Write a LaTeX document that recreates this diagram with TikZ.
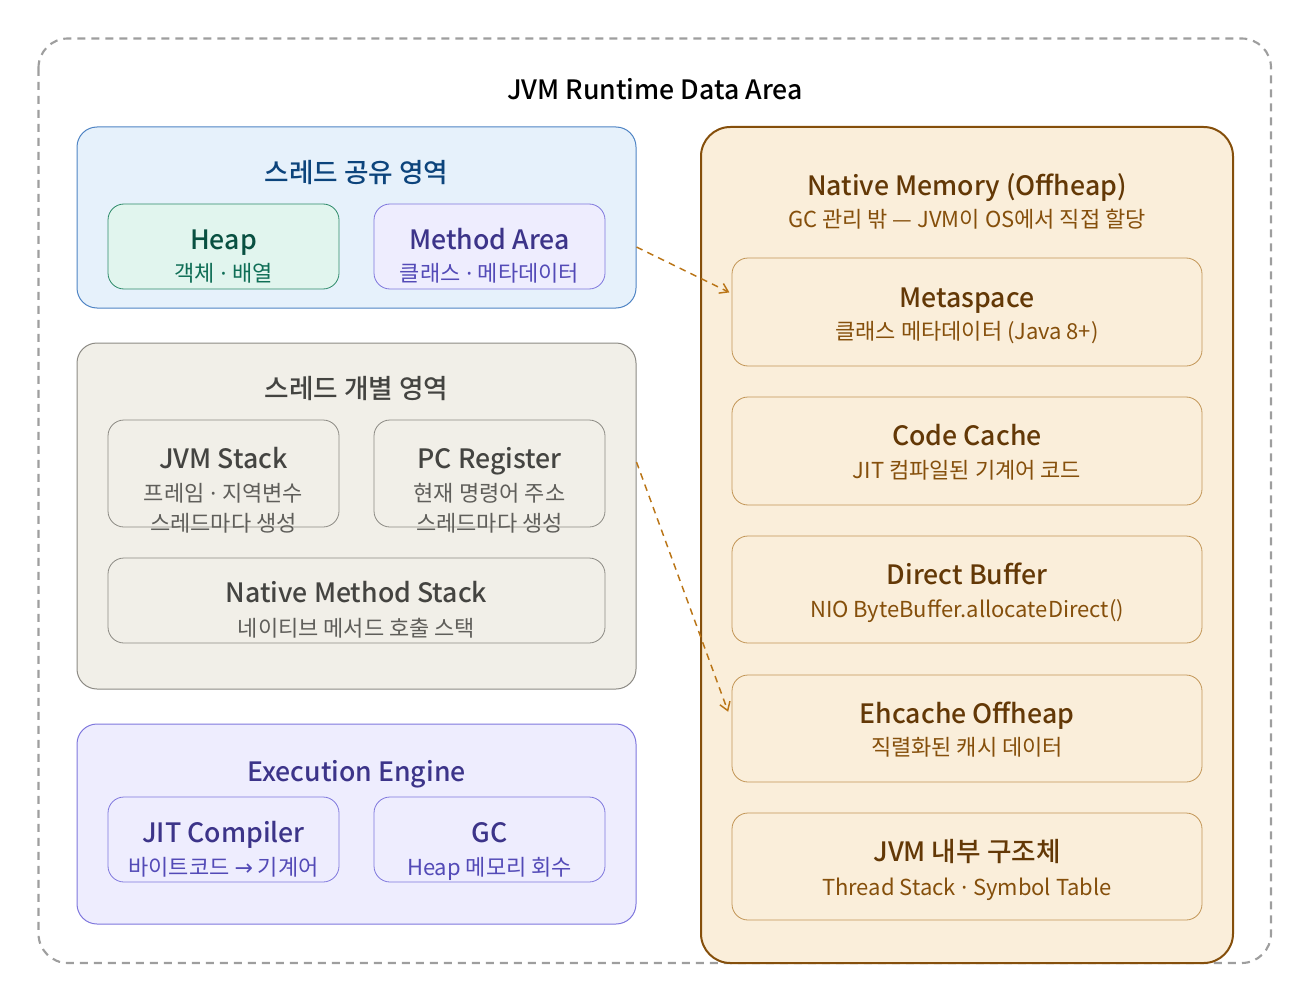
\documentclass[tikz,border=0pt]{standalone}
\usepackage{fontspec}
\setmainfont{Noto Sans CJK KR}
\newfontfamily\medfont{Noto Sans CJK KR Medium}
\newfontfamily\latinfont{Noto Sans}
\newfontfamily\symfont{DejaVu Sans}
\newcommand{\mdot}{{\latinfont\ ·\ }}
\usetikzlibrary{arrows.meta,calc}

\definecolor{outerline}{HTML}{9E9E9E}
\definecolor{blueFill}{HTML}{E6F1FB}
\definecolor{blueLine}{HTML}{4F84C4}
\definecolor{blueText}{HTML}{0C447C}
\definecolor{greenFill}{HTML}{E1F5EE}
\definecolor{greenLine}{HTML}{2E8B6A}
\definecolor{greenText}{HTML}{085041}
\definecolor{greenSub}{HTML}{0F6E56}
\definecolor{purpleFill}{HTML}{EEEDFE}
\definecolor{purpleLine}{HTML}{7F77DD}
\definecolor{purpleText}{HTML}{3C3489}
\definecolor{purpleSub}{HTML}{534AB7}
\definecolor{grayFill}{HTML}{F1EFE8}
\definecolor{grayLine}{HTML}{8C8A84}
\definecolor{grayText}{HTML}{444441}
\definecolor{graySub}{HTML}{5F5E5A}
\definecolor{amberFill}{HTML}{FAEEDA}
\definecolor{amberLine}{HTML}{854F0B}
\definecolor{amberInner}{HTML}{C29556}
\definecolor{amberText}{HTML}{633806}
\definecolor{amberSub}{HTML}{854F0B}
\definecolor{arrowCol}{HTML}{BA7517}

\tikzset{
  area/.style={draw, rounded corners=15pt, line width=0.75pt, inner sep=0pt},
  cell/.style={draw, rounded corners=12pt, line width=0.6pt, inner sep=0pt},
  headtxt/.style={inner sep=0pt, text height=14pt, text depth=0pt,
    font=\medfont\fontsize{20}{22}\selectfont},
  subtxt/.style={inner sep=0pt, text height=12pt, text depth=0pt,
    font=\fontsize{16.5}{18}\selectfont},
  flow/.style={draw=arrowCol, line width=1.1pt, dash pattern=on 5pt off 4pt,
    -{Straight Barb[length=6pt,width=8pt,line width=1.1pt]}, shorten >=1pt}
}

\begin{document}
\begin{tikzpicture}[x=0.75pt,y=0.75pt,yscale=-1,xscale=1]
\useasboundingbox (0,0) rectangle (1310,1002);

%Shape: outer dashed frame
\draw [draw=outerline, line width=1.6pt, dash pattern=on 6pt off 4.5pt, rounded corners=22pt] (38.5,38.5) rectangle (1271,963);
% Text Node
\node [headtxt, text=black] (mainttl) at (655,90) {JVM Runtime Data Area};

%Shape: shared area
\node [area, fill=blueFill, draw=blueLine, minimum width=559*0.75pt, minimum height=181*0.75pt] (shared) at (356.5,217.5) {};
\node [headtxt, text=blueText] (sharedttl) at (356.5,173) {스레드 공유 영역};
\node [cell, fill=greenFill, draw=greenLine, minimum width=231*0.75pt, minimum height=85*0.75pt] (heap) at (223.5,246.5) {};
\node [headtxt, text=greenText] (heapttl) at (223.5,240) {Heap};
\node [subtxt, text=greenSub] (heapsub) at (223.5,273) {객체\mdot 배열};
\node [cell, fill=purpleFill, draw=purpleLine, minimum width=231*0.75pt, minimum height=85*0.75pt] (method) at (489.5,246.5) {};
\node [headtxt, text=purpleText] (methodttl) at (489.5,240) {Method Area};
\node [subtxt, text=purpleSub] (methodsub) at (489.5,273) {클래스\mdot 메타데이터};

%Shape: per-thread area
\node [area, fill=grayFill, draw=grayLine, minimum width=559*0.75pt, minimum height=346*0.75pt] (perthread) at (356.5,516) {};
\node [headtxt, text=grayText] (perthreadttl) at (356.5,389) {스레드 개별 영역};
\node [cell, fill=grayFill, draw=grayLine, minimum width=231*0.75pt, minimum height=107*0.75pt] (jvmstack) at (223.5,473.5) {};
\node [headtxt, text=grayText] (jvmstackttl) at (223.5,459) {JVM Stack};
\node [subtxt, text=graySub] (jvmstacksub) at (223.5,493) {프레임\mdot 지역변수};
\node [subtxt, text=graySub] (jvmstacknote) at (223.5,523) {스레드마다 생성};
\node [cell, fill=grayFill, draw=grayLine, minimum width=231*0.75pt, minimum height=107*0.75pt] (pcreg) at (489.5,473.5) {};
\node [headtxt, text=grayText] (pcregttl) at (489.5,459) {PC Register};
\node [subtxt, text=graySub] (pcregsub) at (489.5,493) {현재 명령어 주소};
\node [subtxt, text=graySub] (pcregnote) at (489.5,523) {스레드마다 생성};
\node [cell, fill=grayFill, draw=grayLine, minimum width=497*0.75pt, minimum height=85*0.75pt] (nativestack) at (356.5,600.5) {};
\node [headtxt, text=grayText] (nativestackttl) at (356.5,593) {Native Method Stack};
\node [subtxt, text=graySub] (nativestacksub) at (356.5,628) {네이티브 메서드 호출 스택};

%Shape: execution engine
\node [area, fill=purpleFill, draw=purpleLine, minimum width=559*0.75pt, minimum height=200*0.75pt] (engine) at (356.5,824) {};
\node [headtxt, text=purpleText] (enginettl) at (356.5,772) {Execution Engine};
\node [cell, fill=purpleFill, draw=purpleLine, minimum width=231*0.75pt, minimum height=85*0.75pt] (jit) at (223.5,839.5) {};
\node [headtxt, text=purpleText] (jitttl) at (223.5,833) {JIT Compiler};
\node [subtxt, text=purpleSub] (jitsub) at (223.5,867) {바이트코드 {\symfont→} 기계어};
\node [cell, fill=purpleFill, draw=purpleLine, minimum width=231*0.75pt, minimum height=85*0.75pt] (gc) at (489.5,839.5) {};
\node [headtxt, text=purpleText] (gcttl) at (489.5,833) {GC};
\node [subtxt, text=purpleSub] (gcsub) at (489.5,867) {Heap 메모리 회수};

%Shape: native memory
\node [area, fill=amberFill, draw=amberLine, line width=1.5pt, rounded corners=22pt, minimum width=532*0.75pt, minimum height=836*0.75pt] (native) at (967,545) {};
\node [headtxt, text=amberText] (nativettl) at (967,186) {Native Memory (Offheap)};
\node [subtxt, text=amberSub] (nativesub) at (967,220) {GC 관리 밖 — JVM이 OS에서 직접 할당};
\node [cell, fill=amberFill, draw=amberInner, minimum width=470*0.75pt, minimum height=108*0.75pt] (meta) at (967,312) {};
\node [headtxt, text=amberText] (metattl) at (967,298) {Metaspace};
\node [subtxt, text=amberSub] (metasub) at (967,331) {클래스 메타데이터 (Java 8+)};
\node [cell, fill=amberFill, draw=amberInner, minimum width=470*0.75pt, minimum height=108*0.75pt] (codecache) at (967,451) {};
\node [headtxt, text=amberText] (codecachettl) at (967,436) {Code Cache};
\node [subtxt, text=amberSub] (codecachesub) at (967,470) {JIT 컴파일된 기계어 코드};
\node [cell, fill=amberFill, draw=amberInner, minimum width=470*0.75pt, minimum height=107*0.75pt] (direct) at (967,589.5) {};
\node [headtxt, text=amberText] (directttl) at (967,575) {Direct Buffer};
\node [subtxt, text=amberSub] (directsub) at (967,609) {NIO ByteBuffer.allocateDirect()};
\node [cell, fill=amberFill, draw=amberInner, minimum width=470*0.75pt, minimum height=107*0.75pt] (ehcache) at (967,728.5) {};
\node [headtxt, text=amberText] (ehcachettl) at (967,714) {Ehcache Offheap};
\node [subtxt, text=amberSub] (ehcachesub) at (967,747) {직렬화된 캐시 데이터};
\node [cell, fill=amberFill, draw=amberInner, minimum width=470*0.75pt, minimum height=107*0.75pt] (internal) at (967,866.5) {};
\node [headtxt, text=amberText] (internalttl) at (967,852) {JVM 내부 구조체};
\node [subtxt, text=amberSub] (internalsub) at (967,887) {Thread Stack\mdot Symbol Table};

%Straight Lines: offheap links
\draw [flow] ($(shared.east)+(0,29.5)$) -- ($(meta.west)+(-1,-19)$);
\draw [flow] ($(perthread.east)+(0,-54)$) -- ($(ehcache.west)+(-3,-15.5)$);

\end{tikzpicture}
\end{document}
